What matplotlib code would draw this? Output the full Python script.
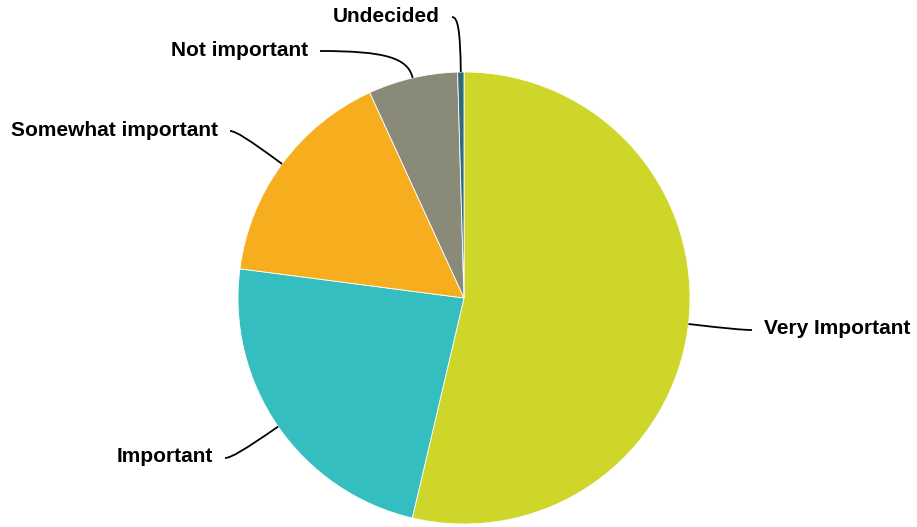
import numpy as np
import matplotlib
matplotlib.use("Agg")
import matplotlib.pyplot as plt
from matplotlib.path import Path
from matplotlib.patches import PathPatch

categories = ["Very Important", "Important", "Somewhat important", "Not important", "Undecided"]
values = [53.7, 23.4, 16.1, 6.4, 0.45]
colors = ["#CFD62A", "#35BEBF", "#F6AE1F", "#8A8A79", "#2E6A78"]

W, H = 917, 527
cx, cy, R = 464, 298, 226  # pixel coords (y down)
# label connector end points (pixel coords), and text side
label_pos = [(752, 330, "left"), (225, 458, "right"), (230, 131, "right"),
             (320, 51, "right"), (452, 17, "right")]

fig = plt.figure(figsize=(W / 100, H / 100), dpi=100)
ax = fig.add_axes([0, 0, 1, 1])
ax.set_xlim(0, W)
ax.set_ylim(0, H)
ax.set_aspect("equal")
ax.axis("off")

wedges, _ = ax.pie(values, colors=colors, startangle=90, counterclock=False,
                   center=(cx, H - cy), radius=R,
                   wedgeprops=dict(edgecolor="white", linewidth=0.6))
ax.set_xlim(0, W)
ax.set_ylim(0, H)

total = sum(values)
cum = 0.0
for name, v, (lx, ly, side) in zip(categories, values, label_pos):
    mid = np.deg2rad((cum + v / 2) / total * 360.0)
    cum += v
    dx, dy = np.sin(mid), -np.cos(mid)  # pixel direction (y down)
    p0 = np.array([cx + R * dx, cy + R * dy])
    p3 = np.array([lx, ly], dtype=float)
    t = (ly - p0[1]) / dy if abs(dy) > 1e-6 else 0
    c = p0 + t * np.array([dx, dy])
    p1 = p0 + (c - p0) * 0.75
    p2 = p3 + (c - p3) * 0.75
    pts = [p0, p1, p2, p3]
    verts = [(x, H - y) for x, y in pts]
    path = Path(verts, [Path.MOVETO, Path.CURVE4, Path.CURVE4, Path.CURVE4])
    ax.add_patch(PathPatch(path, fill=False, edgecolor="black", linewidth=1.3))
    if side == "right":
        ax.text(lx - 12, H - ly + 1, name, ha="right", va="center",
                fontsize=15, fontweight="bold", family="Liberation Sans", color="black")
    else:
        ax.text(lx + 12, H - ly + 1, name, ha="left", va="center",
                fontsize=15, fontweight="bold", family="Liberation Sans", color="black")

fig.savefig("out.png", dpi=100)
